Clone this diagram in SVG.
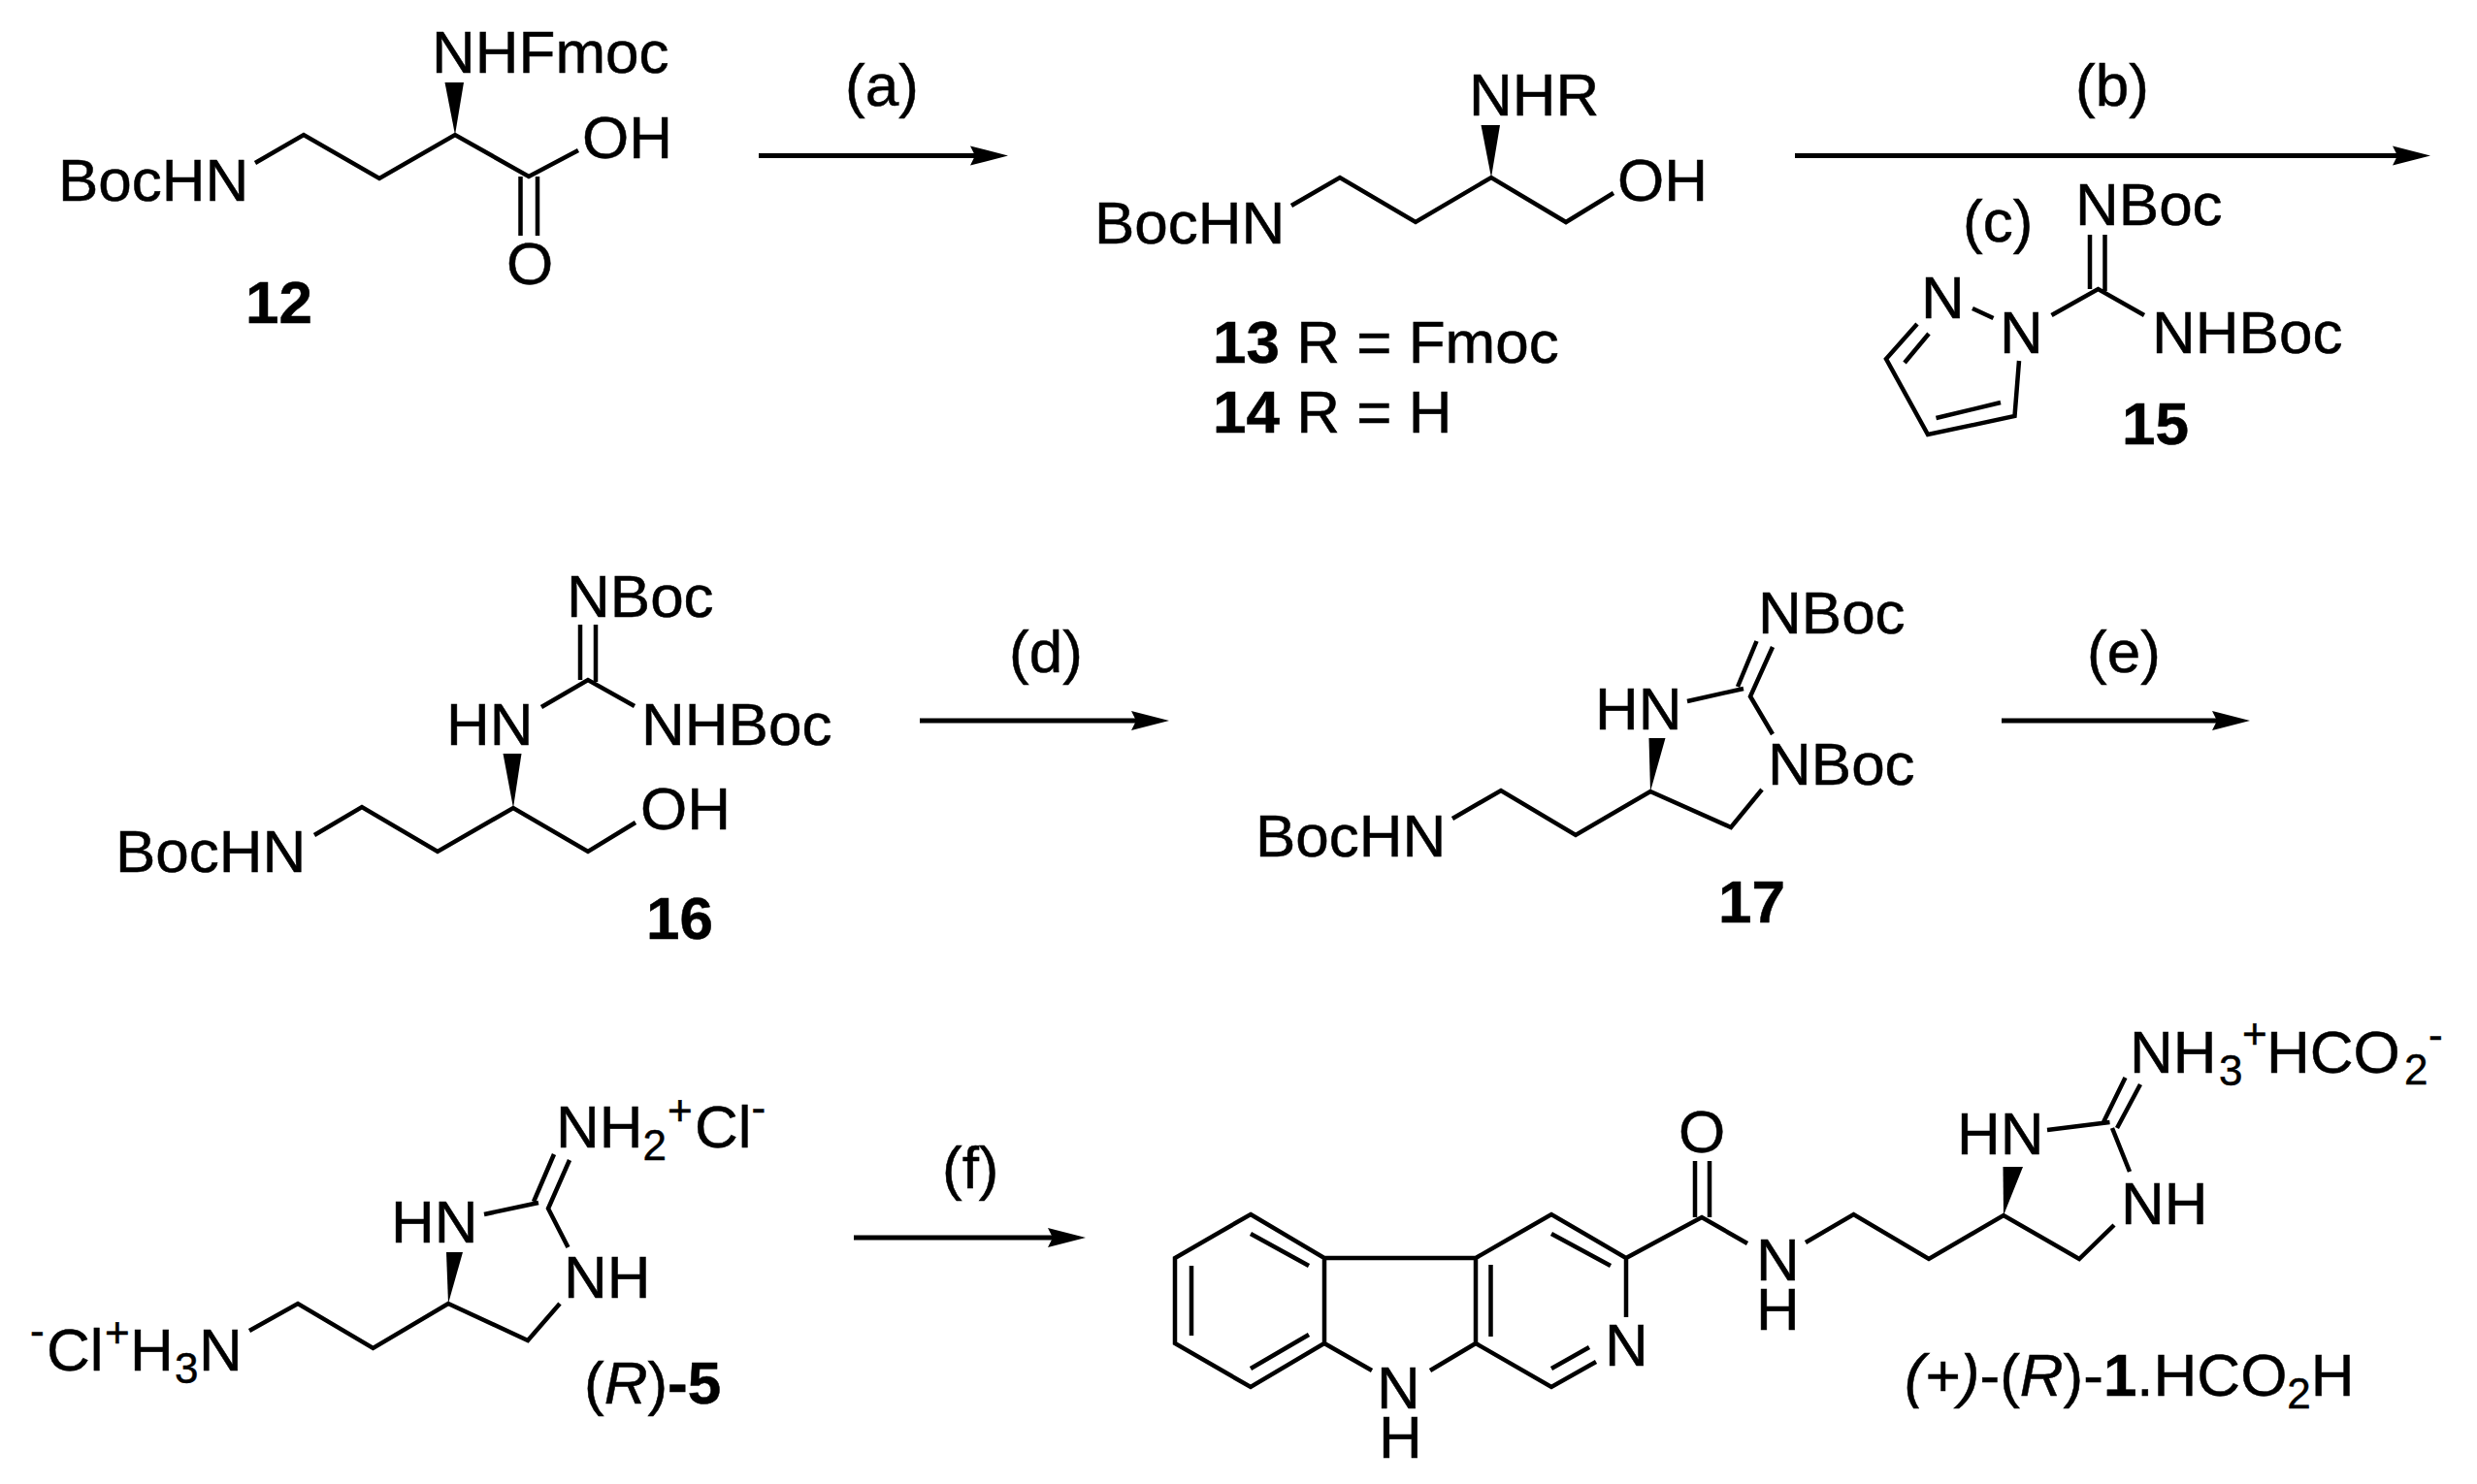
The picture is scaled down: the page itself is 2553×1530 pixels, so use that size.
<svg xmlns="http://www.w3.org/2000/svg" width="2553" height="1530" viewBox="0 0 2553 1530">
<style>
text{font-family:"Liberation Sans",Arial,sans-serif;font-size:62px;fill:#000;stroke:#000;stroke-width:.5}
.n{font-weight:bold}
.s{font-size:44px}
.i{font-style:italic}
.b{fill:none;stroke:#000;stroke-width:4.5;stroke-linejoin:miter}
.w{fill:#000;stroke:none}
.a{fill:none;stroke:#000;stroke-width:5}
</style>
<defs>
<marker id="ah" markerUnits="userSpaceOnUse" markerWidth="40" markerHeight="22" refX="5" refY="11" orient="auto">
<path d="M0,1 L39,11 L0,21 L5,11 Z" fill="#000"/>
</marker>
</defs>
<rect width="2553" height="1530" fill="#fff"/>
<g id="connectors">
<path class="a" marker-end="url(#ah)" d="M782,160.5H1005"/>
<path class="a" marker-end="url(#ah)" d="M1850,160.5H2471"/>
<path class="a" marker-end="url(#ah)" d="M948,743H1171"/>
<path class="a" marker-end="url(#ah)" d="M2063,743H2285"/>
<path class="a" marker-end="url(#ah)" d="M880,1276H1085"/>
</g>
<g id="reagent-labels">
<text x="871" y="109">(a)</text>
<text x="2139" y="109">(b)</text>
<text x="2023" y="249">(c)</text>
<text x="1040" y="693">(d)</text>
<text x="2151" y="693">(e)</text>
<text x="971" y="1225">(f)</text>
</g>
<g id="mol-12">
<path class="b" d="M263,168L313,139L391,184L469,139L545,182L596,155M536.5,182V243M554,182V243"/>
<path class="w" d="M469,139L458.5,85H478Z"/>
<text x="60" y="207">BocHN</text>
<text x="445" y="75">NHFmoc</text>
<text x="600" y="163">OH</text>
<text x="522" y="293">O</text>
<text class="n" x="253" y="333">12</text>
</g>
<g id="mol-13-14">
<path class="b" d="M1331,212L1381,183L1459,229L1537,183L1614,229L1663,199"/>
<path class="w" d="M1537,183L1526.5,129H1546Z"/>
<text x="1128" y="251">BocHN</text>
<text x="1514" y="119">NHR</text>
<text x="1667" y="207">OH</text>
<text x="1250" y="374"><tspan class="n">13</tspan> R = Fmoc</text>
<text x="1250" y="446"><tspan class="n">14</tspan> R = H</text>
</g>
<g id="mol-15">
<path class="b" d="M2154,242V298M2169.5,242V300M2114.5,325L2162.5,298L2210,325M2033,318L2054.5,328M1976,334L1944,370L1987,448L2076.5,429L2081,372M1988,344L1963,374M1995.5,431L2062,415"/>
<text x="2139" y="232">NBoc</text>
<text x="2218" y="364">NHBoc</text>
<text x="2061" y="364">N</text>
<text x="1980" y="328">N</text>
<text class="n" x="2187" y="458">15</text>
</g>
<g id="mol-16">
<path class="b" d="M598,644V701M614,644V703M558,729L606,701L654,728M324,861L373,832L451,878L529,833L606,878L655,848"/>
<path class="w" d="M529,833L518.5,777H537.5Z"/>
<text x="584" y="636">NBoc</text>
<text x="460" y="768">HN</text>
<text x="661" y="768">NHBoc</text>
<text x="119" y="899">BocHN</text>
<text x="660" y="855">OH</text>
<text class="n" x="666" y="968">16</text>
</g>
<g id="mol-17">
<path class="b" d="M1810.5,661L1791,708M1827,667L1804,718L1827,757M1497,844L1547,815L1624,861L1701,816L1784,853L1816,814M1739,723L1797,710"/>
<path class="w" d="M1701,816L1699.5,761H1716.5Z"/>
<text x="1812" y="653">NBoc</text>
<text x="1644" y="752">HN</text>
<text x="1822" y="809">NBoc</text>
<text x="1294" y="883">BocHN</text>
<text class="n" x="1771" y="951">17</text>
</g>
<g id="mol-5">
<path class="b" d="M571,1190L550,1239M587,1196L565,1246L585.5,1286M257,1372L307,1344L384.5,1390L462,1344L544,1382L577,1344M499,1252L555,1240"/>
<path class="w" d="M462,1344L460,1291H477Z"/>
<text x="573" y="1183">NH<tspan class="s" dy="13">2</tspan><tspan class="s" x="688" dy="-36">+</tspan><tspan x="716" dy="23">Cl</tspan><tspan class="s" dy="-26">-</tspan></text>
<text x="403" y="1281">HN</text>
<text x="581" y="1338">NH</text>
<text x="31" y="1413"><tspan class="s" dy="-26">-</tspan><tspan x="48" dy="26">Cl</tspan><tspan class="s" x="108" dy="-24">+</tspan><tspan x="134" dy="24">H</tspan><tspan class="s" x="180" dy="13">3</tspan><tspan x="205" dy="-13">N</tspan></text>
<text x="602" y="1447">(<tspan class="i">R</tspan>)<tspan class="n">-5</tspan></text>
</g>
<g id="mol-1">
<path class="b" d="M1289,1252L1365,1297V1385L1289,1430L1211,1385V1297ZM1289,1272L1349,1305M1228,1305V1377M1289,1411L1349,1376M1365,1297H1521L1599,1252L1676,1297V1358M1521,1297V1385L1599,1430L1645,1404M1536.5,1304V1378M1599,1272L1660,1305M1599,1411L1638,1389M1365,1385L1414,1413M1521,1385L1474,1413M1676,1297L1754,1255L1801,1282M1747,1197V1255M1762,1197V1255M1861,1281L1910.5,1252L1988,1298L2065,1253L2143,1298L2179,1263M2190.5,1111L2168,1157M2206,1118L2182,1163M2177,1163L2195,1208M2110,1165L2174.5,1157"/>
<path class="w" d="M2065,1253L2064.5,1203H2085Z"/>
<text x="1654" y="1408">N</text>
<text x="1419" y="1452">N<tspan x="1421" dy="51">H</tspan></text>
<text x="1730" y="1188">O</text>
<text x="1810" y="1320">N<tspan x="1810" dy="51">H</tspan></text>
<text x="2017" y="1190">HN</text>
<text x="2186" y="1262">NH</text>
<text x="2195" y="1106">NH<tspan class="s" x="2287" dy="13">3</tspan><tspan class="s" x="2311" dy="-38">+</tspan><tspan x="2336" dy="25">HCO</tspan><tspan class="s" x="2478" dy="12">2</tspan><tspan class="s" x="2503" dy="-36">-</tspan></text>
<text x="1963" y="1439"><tspan class="i">(+)</tspan>-(<tspan class="i">R</tspan>)-<tspan class="n">1</tspan>.HCO<tspan class="s" dy="13">2</tspan><tspan dy="-13">H</tspan></text>
</g>
</svg>
